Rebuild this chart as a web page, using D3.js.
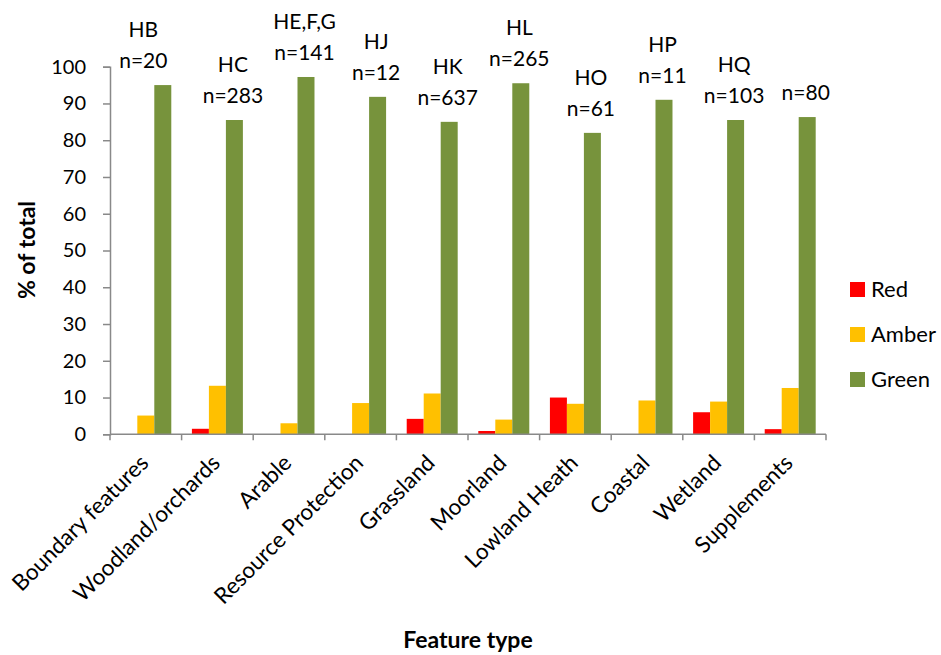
<!DOCTYPE html>
<html>
<head>
<meta charset="utf-8">
<script src="https://cdn.jsdelivr.net/npm/d3@7"></script>
<style>
  body { margin: 0; background: #fff; }
  svg { font-family: Lato, "Open Sans", sans-serif; }
</style>
</head>
<body>
<div id="chart"></div>
<script>
const categories = ["Boundary features", "Woodland/orchards", "Arable", "Resource Protection", "Grassland",
    "Moorland", "Lowland Heath", "Coastal", "Wetland", "Supplements"]
const codes = ["HB", "HC", "HE,F,G", "HJ", "HK", "HL", "HO", "HP", "HQ", ""]
const counts = [20, 283, 141, 12, 637, 265, 61, 11, 103, 80]
const series = ["Red", "Amber", "Green"]
const red = [0, 1.5, 0, 0, 4.2, 0.9, 10.0, 0, 6.0, 1.4]
const amber = [5.1, 13.2, 3.0, 8.5, 11.1, 4.0, 8.3, 9.2, 8.9, 12.6]
const green = [95.0, 85.5, 97.2, 91.8, 85.0, 95.5, 82.0, 91.0, 85.5, 86.3]
const yTicks = [0, 10, 20, 30, 40, 50, 60, 70, 80, 90, 100]
const colors = ["#ff0000", "#ffc000", "#77933c"]

const width = 941
const height = 655
const plot = { left: 110, right: 826, top: 66.7, bottom: 434.3 }

const svg = d3.select("#chart").append("svg")
    .attr("width", width)
    .attr("height", height)

const x0 = d3.scaleBand()
    .domain(categories)
    .range([plot.left, plot.right])
    .paddingInner(0.288)
    .paddingOuter(0.144)

const x1 = d3.scaleBand()
    .domain(series)
    .range([0, x0.bandwidth()])

const y = d3.scaleLinear()
    .domain([0, 100])
    .range([plot.bottom, plot.top])

const color = d3.scaleOrdinal().domain(series).range(colors)

const rows = categories.map((c, i) => ({ cat: c, values: [red[i], amber[i], green[i]] }))

// bars
const groups = svg.append("g").selectAll("g")
    .data(rows)
    .join("g")
    .attr("transform", d => `translate(${x0(d.cat)},0)`)

groups.selectAll("rect")
    .data(d => d.values.map((v, k) => ({ key: series[k], v })))
    .join("rect")
    .attr("x", d => x1(d.key))
    .attr("width", x1.bandwidth())
    .attr("y", d => y(d.v))
    .attr("height", d => y(0) - y(d.v))
    .attr("fill", d => color(d.key))

// y axis
const yAxis = svg.append("g")
    .attr("transform", `translate(${plot.left},0)`)
    .call(d3.axisLeft(y).tickValues(yTicks).tickSize(7).tickPadding(17))
yAxis.select(".domain").attr("stroke", "#898989").attr("stroke-width", 1.5)
yAxis.selectAll(".tick line").attr("stroke", "#898989").attr("stroke-width", 1.5)
yAxis.selectAll(".tick text")
    .attr("font-size", 20)
    .attr("font-family", "Lato")
    .attr("fill", "#000")

// x axis line with ticks at category boundaries
const xg = svg.append("g")
xg.append("line")
    .attr("x1", plot.left).attr("x2", plot.right)
    .attr("y1", y(0)).attr("y2", y(0))
    .attr("stroke", "#898989").attr("stroke-width", 1.5)
const bounds = d3.range(categories.length + 1).map(i => plot.left + i * x0.step())
xg.selectAll(".xt")
    .data(bounds)
    .join("line")
    .attr("x1", d => d).attr("x2", d => d)
    .attr("y1", y(0)).attr("y2", y(0) + 6)
    .attr("stroke", "#898989").attr("stroke-width", 1.5)

// category labels
svg.append("g").selectAll("text")
    .data(categories)
    .join("text")
    .attr("transform", d => `translate(${x0(d) + x0.bandwidth() / 2 + 4},${y(0) + 30}) rotate(-45)`)
    .attr("text-anchor", "end")
    .attr("font-size", 22.5)
    .text(d => d)

// code / n labels above green bars
const lab = svg.append("g").selectAll("g")
    .data(rows)
    .join("g")
    .attr("transform", (d, i) => {
        const cx = x0(d.cat) + x1("Green") + x1.bandwidth() / 2 - 1.5 + (i === 0 ? -18 : 0)
        return `translate(${cx},${y(d.values[2]) - 17})`
    })
lab.append("text")
    .attr("text-anchor", "middle")
    .attr("font-size", 21)
    .text((d, i) => `n=${counts[i]}`)
lab.append("text")
    .attr("text-anchor", "middle")
    .attr("font-size", 21)
    .attr("y", -31)
    .text((d, i) => codes[i])

// axis titles
svg.append("text")
    .attr("x", (plot.left + plot.right) / 2)
    .attr("y", 648)
    .attr("text-anchor", "middle")
    .attr("font-size", 23)
    .attr("font-weight", "bold")
    .text("Feature type")

svg.append("text")
    .attr("transform", `translate(35,250) rotate(-90)`)
    .attr("text-anchor", "middle")
    .attr("font-size", 23)
    .attr("font-weight", "bold")
    .text("% of total")

// legend
const legend = svg.append("g").selectAll("g")
    .data(series)
    .join("g")
    .attr("transform", (d, i) => `translate(850,${282 + i * 45})`)
legend.append("rect")
    .attr("width", 15).attr("height", 15)
    .attr("fill", d => color(d))
legend.append("text")
    .attr("x", 21).attr("y", 15)
    .attr("font-size", 22)
    .text(d => d)
</script>
</body>
</html>
